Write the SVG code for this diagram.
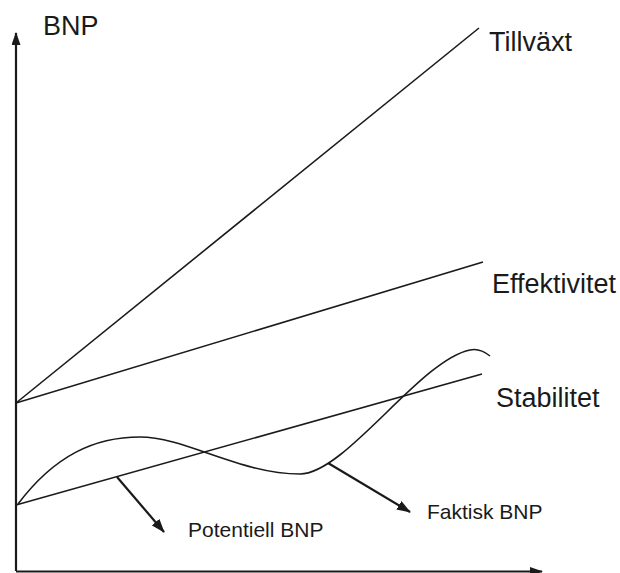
<svg xmlns="http://www.w3.org/2000/svg" width="620" height="573" viewBox="0 0 620 573">
<style>
.ln{fill:none;stroke:#1a1a1a;stroke-width:1.6}
.ax{fill:none;stroke:#1a1a1a;stroke-width:2.2}
.ar{fill:none;stroke:#1a1a1a;stroke-width:2.2}
.lbl{font-family:"Liberation Sans",Arial,sans-serif;fill:#1a1a1a}
.big{font-size:27px}
.sm{font-size:21px}
</style>
<defs>
<marker id="ah" viewBox="0 0 14 10" refX="13" refY="5" markerWidth="14" markerHeight="10" markerUnits="userSpaceOnUse" orient="auto">
<path d="M0,0 L14,5 L0,10 Z" fill="#1a1a1a"/>
</marker>
<marker id="axh" viewBox="0 0 13 9" refX="12" refY="4.5" markerWidth="13" markerHeight="9" markerUnits="userSpaceOnUse" orient="auto">
<path d="M0,0 L13,4.5 L0,9 Z" fill="#1a1a1a"/>
</marker>
</defs>
<g id="axes">
<line class="ax" x1="16" y1="571" x2="16" y2="33" marker-end="url(#axh)"/>
<line class="ax" x1="16" y1="571.5" x2="542" y2="571.5" marker-end="url(#axh)"/>
<text class="lbl big" x="43" y="35">BNP</text>
</g>
<g id="tillvaxt">
<line class="ln" x1="16" y1="403" x2="479" y2="28"/>
<text class="lbl big" x="489" y="51">Tillväxt</text>
</g>
<g id="effektivitet">
<line class="ln" x1="16" y1="403" x2="483" y2="262"/>
<text class="lbl big" x="492" y="293">Effektivitet</text>
</g>
<g id="stabilitet">
<line class="ln" x1="16" y1="505" x2="482" y2="374"/>
<text class="lbl big" x="496" y="407">Stabilitet</text>
</g>
<g id="faktisk">
<path class="ln" d="M18,504 C55,455 95,437 140,437 C185,437 240,474 300,474 C345,474 420,360 470,350 C479,348 485,352 490,356"/>
<text class="lbl sm" x="427" y="519">Faktisk BNP</text>
</g>
<g id="potentiell">
<text class="lbl sm" x="188" y="537">Potentiell BNP</text>
</g>
<g id="connectors">
<line class="ar" x1="117" y1="477" x2="164" y2="532" marker-end="url(#ah)"/>
<line class="ar" x1="328" y1="463" x2="410" y2="512" marker-end="url(#ah)"/>
</g>
</svg>
